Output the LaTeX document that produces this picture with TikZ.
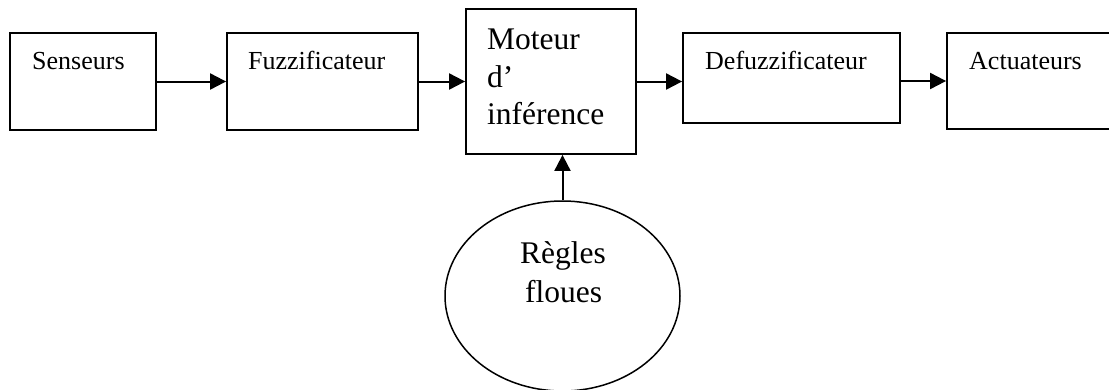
\documentclass[tikz,border=0pt]{standalone}
\usepackage{fontspec}
\setmainfont{Liberation Serif}
\usetikzlibrary{arrows.meta,shapes.geometric}
\begin{document}
\begin{tikzpicture}[x=1pt,y=-1pt,
  blk/.style={draw=black, line width=1.8pt, rectangle, inner sep=0pt},
  rules/.style={draw=black, line width=1.5pt, ellipse, inner sep=0pt,
    minimum width=235pt, minimum height=190pt},
  lbl/.style={inner sep=0pt, anchor=base west, font=\fontsize{26}{31}\selectfont},
  biglbl/.style={inner sep=0pt, anchor=base west, font=\fontsize{31.5}{37}\selectfont},
  arr/.style={line width=2pt, -{Triangle[length=16pt,width=16pt]}}]
  \useasboundingbox (0,0) rectangle (1109,389);

  % processing blocks (the last one runs past the right page edge)
  \node[blk, minimum width=146pt, minimum height=97pt] (sens) at (83,81.5) {};
  \node[blk, minimum width=191pt, minimum height=97pt] (fuzz) at (322.5,81.5) {};
  \node[blk, minimum width=170pt, minimum height=145pt] (mot) at (551,81.5) {};
  \node[blk, minimum width=217pt, minimum height=90pt] (defuzz) at (791.5,78) {};
  \node[blk, minimum width=168pt, minimum height=96pt] (act) at (1031,81) {};

  % rule base
  \node[rules] (regles) at (562.5,296) {};

  % block captions
  \node[lbl] (tsens) at (32,69) {Senseurs};
  \node[lbl] (tfuzz) at (248,69) {Fuzzificateur};
  \node[biglbl] (tmot1) at (487,49) {Moteur};
  \node[biglbl] (tmot2) at (487,87) {d’};
  \node[biglbl] (tmot3) at (487,124) {inférence};
  \node[lbl] (tdefuzz) at (705,69) {Defuzzificateur};
  \node[lbl] (tact) at (969,69) {Actuateurs};
  \node[biglbl] (treg1) at (520,263) {Règles};
  \node[biglbl] (treg2) at (525,302) {floues};

  % signal flow
  \draw[arr] (sens.east) -- (fuzz.west);
  \draw[arr] (fuzz.east) -- (mot.west);
  \draw[arr] (mot.east) -- (mot.east -| defuzz.west);
  \draw[arr] (act.west -| defuzz.east) -- (act.west);
  \draw[arr] (regles.north) -- (regles.north |- mot.south);
\end{tikzpicture}
\end{document}
